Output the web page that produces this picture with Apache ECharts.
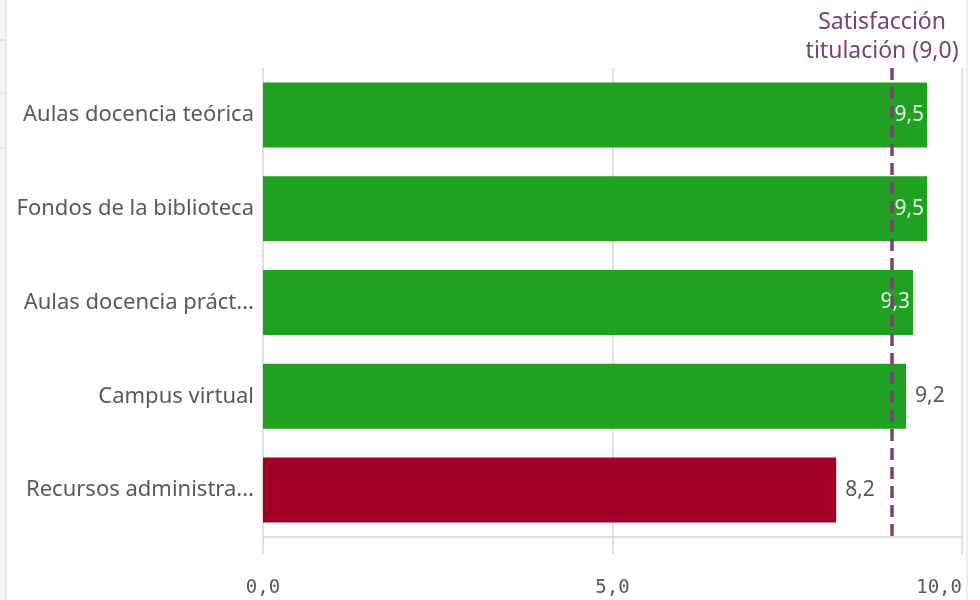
<!DOCTYPE html>
<html>
<head>
<meta charset="utf-8">
<script src="https://cdn.jsdelivr.net/npm/echarts@6/dist/echarts.min.js"></script>
<style>html,body{margin:0;padding:0;background:#fff;}#c{width:980px;height:600px;}</style>
</head>
<body>
<div id="c"></div>
<script>
const categories = ["Aulas docencia teórica", "Fondos de la biblioteca", "Aulas docencia práct...", "Campus virtual", "Recursos administra..."];
const values = [9.5, 9.5, 9.3, 9.2, 8.2];
const referenceValue = 9.0;
const referenceLabel = "Satisfacción\ntitulación (9,0)";
const xTicks = [0, 5, 10];

const GREEN = '#21a121', RED = '#a30026', PURPLE = '#7d3f7b', GRAY = '#595959';
const fmt = v => v.toFixed(1).replace('.', ',');

const data = values.map(v => ({
  value: v,
  itemStyle: { color: v >= referenceValue ? GREEN : RED },
  label: v >= 9.3
    ? { position: 'insideRight', color: '#e6f4e6', distance: 3 }
    : { position: 'right', color: GRAY, distance: 9 }
}));

const chart = echarts.init(document.getElementById('c'), null, { renderer: 'canvas' });
chart.setOption({
  animation: false,
  grid: { left: 263, right: 18, top: 68, bottom: 63, containLabel: false },
  xAxis: {
    type: 'value', min: xTicks[0], max: xTicks[xTicks.length - 1], interval: 5,
    axisLine: { show: true, lineStyle: { color: '#d6d6d6', width: 1.5 } },
    axisTick: { show: true, length: 17, lineStyle: { color: '#d6d6d6', width: 1.5 } },
    splitLine: { show: true, lineStyle: { color: '#d6d6d6', width: 1.5 } },
    axisLabel: {
      color: GRAY, fontSize: 19, fontFamily: 'DejaVu Sans Mono', margin: 42,
      alignMaxLabel: 'right', formatter: v => fmt(v)
    }
  },
  yAxis: {
    type: 'category', data: categories, inverse: true,
    axisLine: { show: false }, axisTick: { show: false },
    axisLabel: { color: GRAY, fontSize: 22, fontFamily: 'Noto Sans', margin: 9 }
  },
  series: [{
    type: 'bar', data: data, barWidth: 65,
    label: { show: true, fontSize: 21, fontFamily: 'Noto Sans', formatter: p => fmt(p.value) },
    markLine: {
      silent: true, symbol: ['none', 'none'],
      lineStyle: { color: PURPLE, type: [12, 7], width: 3.5 },
      label: {
        show: true, position: 'start', formatter: referenceLabel, color: PURPLE,
        fontSize: 23, fontFamily: 'Noto Sans', lineHeight: 29, distance: 2, offset: [-10, 0]
      },
      data: [{ xAxis: referenceValue }]
    }
  }],
  graphic: [
    { type: 'rect', shape: { x: 0, y: 0, width: 6, height: 600 }, style: { fill: '#f5f5f5' } },
    { type: 'line', shape: { x1: 6, y1: 0, x2: 6, y2: 600 }, style: { stroke: '#e3e3e3', lineWidth: 1.5 } },
    { type: 'line', shape: { x1: 967, y1: 0, x2: 967, y2: 600 }, style: { stroke: '#e8e8e8', lineWidth: 1.5 } },
    { type: 'line', shape: { x1: 0, y1: 40, x2: 6, y2: 40 }, style: { stroke: '#d0d0d0', lineWidth: 1 } },
    { type: 'line', shape: { x1: 0, y1: 93, x2: 6, y2: 93 }, style: { stroke: '#e0e0e0', lineWidth: 1 } },
    { type: 'line', shape: { x1: 0, y1: 148, x2: 6, y2: 148 }, style: { stroke: '#e0e0e0', lineWidth: 1 } }
  ]
});
</script>
</body>
</html>
